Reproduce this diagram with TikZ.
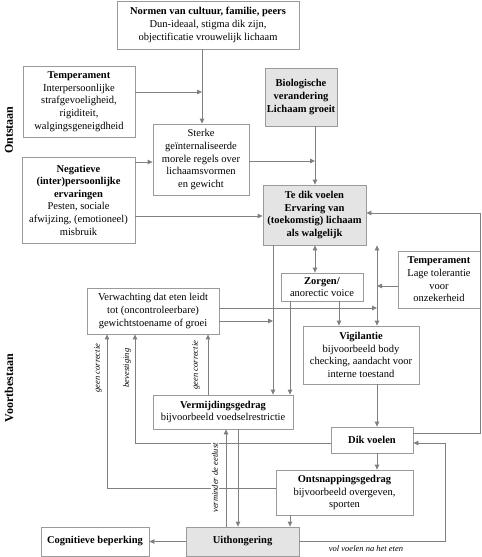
\documentclass[tikz,border=0pt]{standalone}
\usepackage{fontspec}
\setmainfont{Liberation Serif}
\usetikzlibrary{arrows.meta}
\definecolor{linegray}{HTML}{808080}
\definecolor{boxgray}{HTML}{9A9A9A}
\definecolor{fillgray}{HTML}{E4E4E4}
\tikzset{
  box/.style={draw=boxgray, line width=0.8pt, align=center, inner sep=1pt,
    font=\fontsize{10.5}{12.6}\selectfont},
  gbox/.style={box, fill=fillgray},
  arr/.style={draw=linegray, line width=0.8pt, -{Triangle[length=5pt,width=4.5pt]}},
  arrtwo/.style={draw=linegray, line width=0.8pt, {Triangle[length=5pt,width=4.5pt]}-{Triangle[length=5pt,width=4.5pt]}},
  lbl/.style={font=\fontsize{8.5}{9}\selectfont\itshape, inner sep=1pt},
  side/.style={font=\fontsize{12}{14}\selectfont\bfseries, rotate=90}
}
\begin{document}
\begin{tikzpicture}[x=1pt,y=-1pt]
\useasboundingbox (0,0) rectangle (482,557);
% nodes
\node[box, minimum width=182, minimum height=48] (normen) at (208,25)
  {\textbf{Normen van cultuur, familie, peers}\\Dun-ideaal, stigma dik zijn,\\objectificatie vrouwelijk lichaam};
\node[box, minimum width=112, minimum height=71] (temp1) at (79,101.5)
  {\textbf{Temperament}\\Interpersoonlijke\\strafgevoeligheid,\\rigiditeit,\\walgingsgeneigdheid};
\node[gbox, minimum width=72, minimum height=58] (bio) at (301,97)
  {\textbf{Biologische}\\\textbf{verandering}\\\textbf{Lichaam groeit}};
\node[box, minimum width=96, minimum height=71] (sterke) at (201,159.5)
  {Sterke\\geïnternaliseerde\\morele regels over\\lichaamsvormen\\en gewicht};
\node[box, minimum width=113, minimum height=86] (neg) at (78.5,200)
  {\textbf{Negatieve}\\\textbf{(inter)persoonlijke}\\\textbf{ervaringen}\\Pesten, sociale\\afwijzing, (emotioneel)\\misbruik};
\node[gbox, minimum width=103, minimum height=60] (tedik) at (314.5,215)
  {\textbf{Te dik voelen}\\\textbf{Ervaring van}\\\textbf{(toekomstig) lichaam}\\\textbf{als walgelijk}};
\node[box, minimum width=82, minimum height=57] (temp2) at (439,279.5)
  {\textbf{Temperament}\\Lage tolerantie\\voor\\onzekerheid};
\node[box, minimum width=82, minimum height=28] (zorgen) at (322,287)
  {\textbf{Zorgen/}\\anorectic voice};
\node[box, minimum width=132, minimum height=46] (verw) at (153,311)
  {Verwachting dat eten leidt\\tot (oncontroleerbare)\\gewichtstoename of groei};
\node[box, minimum width=116, minimum height=58] (vigil) at (361,355)
  {\textbf{Vigilantie}\\bijvoorbeeld body\\checking, aandacht voor\\interne toestand};
\node[box, minimum width=140, minimum height=34] (vermijd) at (223,412)
  {\textbf{Vermijdingsgedrag}\\bijvoorbeeld voedselrestrictie};
\node[box, minimum width=82, minimum height=26] (dik) at (372,440)
  {\textbf{Dik voelen}};
\node[box, minimum width=137, minimum height=45] (ontsn) at (344.5,492.5)
  {\textbf{Ontsnappingsgedrag}\\bijvoorbeeld overgeven,\\sporten};
\node[box, minimum width=108, minimum height=29] (cogn) at (95,541.5)
  {\textbf{Cognitieve beperking}};
\node[gbox, minimum width=113, minimum height=29] (uith) at (242.5,541.5)
  {\textbf{Uithongering}};
\node[side] (ontstaan) at (9,130) {Ontstaan};
\node[side] (voort) at (9,388) {Voortbestaan};
% x positions
\coordinate (xa) at (202,0);
\coordinate (xb) at (315,0);
\coordinate (xc) at (377,0);
\coordinate (xd) at (339,0);
\coordinate (xe) at (290,0);
\coordinate (xf) at (273,0);
\coordinate (xg) at (107,0);
\coordinate (xh) at (135,0);
\coordinate (xi) at (208,0);
\coordinate (xj) at (226,0);
\coordinate (xk) at (238,0);
\coordinate (xl) at (445,0);
\coordinate (xr) at (480,0);
% connectors
\draw[arr] (xa |- normen.south) -- (xa |- sterke.north);
\draw[arr] (temp1.east |- 0,92) -- (xa |- 0,92);
\draw[arr] (neg.east |- 0,162) -- (sterke.west |- 0,162);
\draw[arr] (xb |- bio.south) -- (xb |- tedik.north);
\draw[arr] (sterke.east |- 0,161) -- (xb |- 0,161);
\draw[arr] (neg.east |- 0,216) -- (tedik.west |- 0,216);
\draw[arr] (dik.east |- 0,433) -- (xr |- 0,433) -- (xr |- 0,213) -- (tedik.east |- 0,213);
\draw[arrtwo] (xb |- tedik.south) -- (xb |- zorgen.north);
\draw[arrtwo] (xc |- tedik.south) -- (xc |- vigil.north);
\draw[arr] (temp2.west |- 0,286) -- (xc |- 0,286);
\draw[arr] (xd |- zorgen.south) -- (xd |- vigil.north);
\draw[arr] (xe |- zorgen.south) -- (xe |- vermijd.north);
\draw[arr] (xf |- tedik.south) -- (xf |- vermijd.north);
\draw[arr] (verw.east |- 0,308) -- (xc |- 0,308);
\draw[arr] (verw.east |- 0,321) -- (xf |- 0,321);
\draw[arr] (ontsn.west |- 0,488) -- (xg |- 0,488) -- (xg |- verw.south);
\draw[arr] (dik.west |- 0,443) -- (xh |- 0,443) -- (xh |- verw.south);
\draw[arr] (xi |- vermijd.north) -- (xi |- verw.south);
\draw[arr] (xj |- uith.north) -- (xj |- vermijd.south);
\draw[arr] (xk |- vermijd.south) -- (xk |- uith.north);
\draw[arr] (xc |- vigil.south) -- (xc |- dik.north);
\draw[arr] (xc |- dik.south) -- (xc |- ontsn.north);
\draw[arr] (xe |- ontsn.south) -- (xe |- uith.north);
\draw[arr] (uith.west) -- (cogn.east);
\draw[arr] (uith.east) -- (xl |- uith.east) -- (xl |- 0,443) -- (dik.east |- 0,443);
% labels
\node[lbl, rotate=90] (l1) at (98,368) {geen correctie};
\node[lbl, rotate=90] (l2) at (127,368) {bevestiging};
\node[lbl, rotate=90] (l3) at (196,365) {geen correctie};
\node[lbl, rotate=90, fill=white] (l4) at (215,478) {verminder de eetlust};
\node[lbl] (l5) at (366,549) {vol voelen na het eten};
\end{tikzpicture}
\end{document}
